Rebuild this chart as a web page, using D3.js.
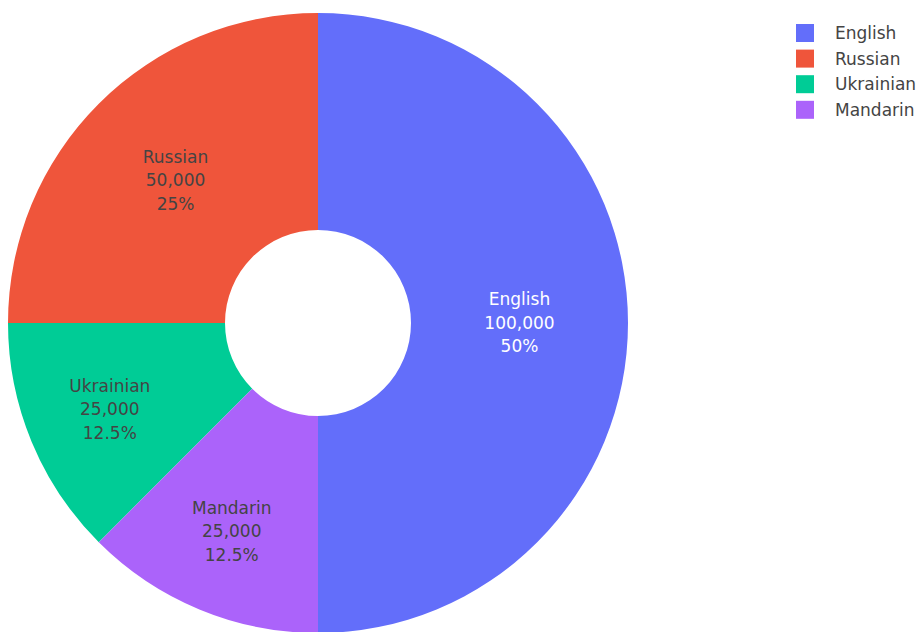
<!DOCTYPE html>
<html>
<head>
<meta charset="utf-8">
<script src="https://cdn.jsdelivr.net/npm/d3@7"></script>
<style>
  html, body { margin: 0; padding: 0; background: #fff; }
  svg { display: block; font-family: "DejaVu Sans", Verdana, sans-serif; }
</style>
</head>
<body>
<svg id="chart" width="920" height="632"></svg>
<script>
// Speakers by language
const languages = ["English", "Russian", "Ukrainian", "Mandarin"];
const speakers = [100000, 50000, 25000, 25000];
const colors = ["#636efa", "#EF553B", "#00cc96", "#ab63fa"];
const textColors = ["#ffffff", "#444444", "#444444", "#444444"];

const width = 920, height = 632;
const cx = 318, cy = 323;
const outerR = 310, innerR = 93;

const svg = d3.select("#chart");

const data = languages.map((name, i) => ({ name, value: speakers[i], color: colors[i], textColor: textColors[i] }));
const total = d3.sum(speakers);

// slices run counterclockwise, the first one ending at 12 o'clock
const pie = d3.pie().value(d => d.value).sort(null)
  .startAngle(Math.PI).endAngle(-Math.PI);
const arcs = pie(data);
const arc = d3.arc().innerRadius(innerR).outerRadius(outerR);

const g = svg.append("g").attr("transform", `translate(${cx},${cy})`);

g.selectAll("path.slice")
  .data(arcs)
  .join("path")
  .attr("class", "slice")
  .attr("d", arc)
  .attr("fill", d => d.data.color);

const fmt = d3.format(",");
const pct = v => {
  const p = v / total * 100;
  return (Math.round(p * 10) / 10) + "%";
};

const fontSize = 17;
const lineH = 23.5;

// narrow slices get their text pushed further towards the rim
const labels = g.selectAll("text.lbl")
  .data(arcs)
  .join("text")
  .attr("class", "lbl")
  .attr("text-anchor", "middle")
  .attr("font-size", fontSize)
  .attr("fill", d => d.data.textColor)
  .attr("transform", d => {
    const frac = d.data.value / total;
    const t = frac >= 0.25 ? 0.5 : 0.61;
    const r = innerR + (outerR - innerR) * t;
    const a = (d.startAngle + d.endAngle) / 2;
    return `translate(${r * Math.sin(a)},${-r * Math.cos(a)})`;
  });

labels.each(function (d) {
  const lines = [d.data.name, fmt(d.data.value), pct(d.data.value)];
  const t = d3.select(this);
  lines.forEach((s, i) => {
    t.append("tspan")
      .attr("x", 0)
      .attr("y", (i - 1) * lineH)
      .attr("dy", "0.35em")
      .text(s);
  });
});

// legend
const legend = svg.append("g").attr("transform", "translate(796,33)");
const items = legend.selectAll("g.item")
  .data(data)
  .join("g")
  .attr("class", "item")
  .attr("transform", (d, i) => `translate(0,${i * 25.6})`);

items.append("rect")
  .attr("x", 0).attr("y", -9)
  .attr("width", 18).attr("height", 18)
  .attr("fill", d => d.color);

items.append("text")
  .attr("x", 39)
  .attr("dy", "0.35em")
  .attr("font-size", fontSize)
  .attr("fill", "#444")
  .text(d => d.name);
</script>
</body>
</html>
